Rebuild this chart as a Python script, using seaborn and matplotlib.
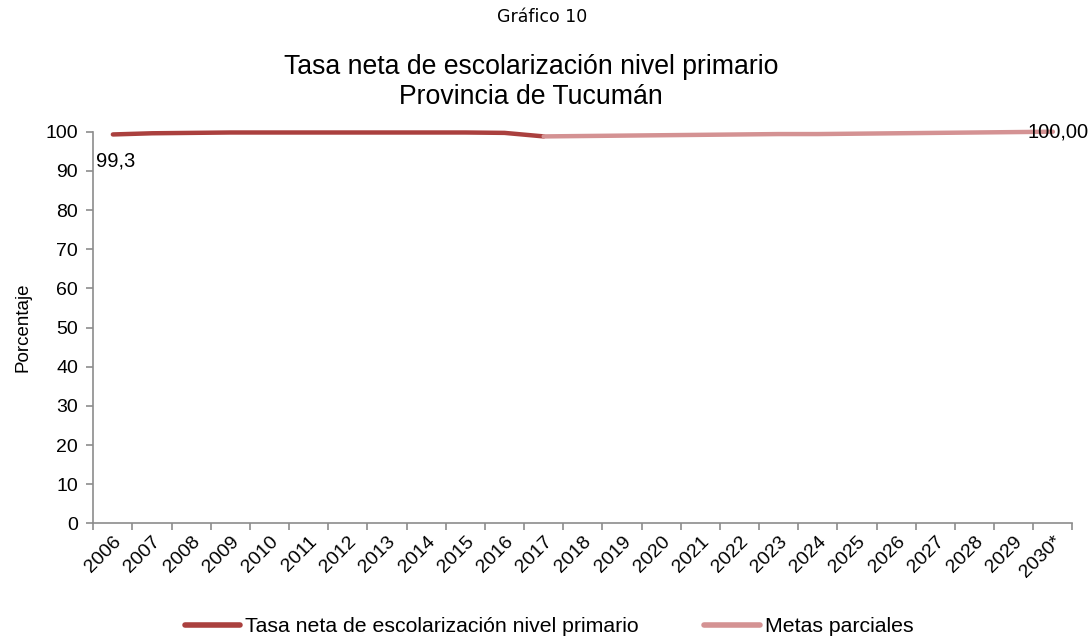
import matplotlib
matplotlib.use("Agg")
import matplotlib.pyplot as plt
import seaborn as sns
import pandas as pd
from matplotlib.ticker import FixedLocator, NullFormatter

# ---- data ----
years = ["2006", "2007", "2008", "2009", "2010", "2011", "2012", "2013", "2014",
         "2015", "2016", "2017", "2018", "2019", "2020", "2021", "2022", "2023",
         "2024", "2025", "2026", "2027", "2028", "2029", "2030*"]
tasa_years = ["2006", "2007", "2008", "2009", "2010", "2011", "2012", "2013",
              "2014", "2015", "2016", "2017"]
tasa_values = [99.3, 99.6, 99.7, 99.8, 99.8, 99.8, 99.8, 99.8, 99.8, 99.8, 99.7, 98.8]
metas_years = ["2017", "2018", "2019", "2020", "2021", "2022", "2023", "2024",
               "2025", "2026", "2027", "2028", "2029", "2030*"]
metas_values = [98.8, 98.9, 99.0, 99.1, 99.2, 99.3, 99.4, 99.4, 99.5, 99.6,
                99.7, 99.8, 99.9, 100.0]
series_names = ["Tasa neta de escolarización nivel primario", "Metas parciales"]
yticks = [0, 10, 20, 30, 40, 50, 60, 70, 80, 90, 100]

df = pd.DataFrame({
    "pos": [years.index(y) for y in tasa_years] + [years.index(y) for y in metas_years],
    "valor": tasa_values + metas_values,
    "serie": [series_names[0]] * len(tasa_years) + [series_names[1]] * len(metas_years),
})

sns.set_theme(style="white")
plt.rcParams["font.family"] = ["Liberation Sans", "DejaVu Sans"]
plt.rcParams["text.color"] = "black"
plt.rcParams["xtick.color"] = "black"
plt.rcParams["ytick.color"] = "black"
plt.rcParams["axes.labelcolor"] = "black"

fig = plt.figure(figsize=(10.91, 6.40), dpi=100)
ax = fig.add_axes([0.0855, 0.1823, 0.8975, 0.6119])

palette = {series_names[0]: "#AA403E", series_names[1]: "#D49293"}
sns.lineplot(data=df, x="pos", y="valor", hue="serie", palette=palette,
             linewidth=3.2, ax=ax, legend=True, sort=True)
for ln in ax.lines:
    ln.set_clip_on(False)
    ln.set_solid_capstyle("round")

ax.set_xlim(-0.5, len(years) - 0.5)
ax.set_ylim(0, 100)
ax.set_yticks(yticks)
ax.set_yticklabels([str(t) for t in yticks], fontsize=14)

# Excel-style ticks: marks at category boundaries, labels at centers
ax.xaxis.set_major_locator(FixedLocator([i - 0.5 for i in range(len(years) + 1)]))
ax.xaxis.set_major_formatter(NullFormatter())
ax.set_xticks(range(len(years)), minor=True)
ax.set_xticklabels(years, minor=True, fontsize=14, rotation=45, ha="right",
                   rotation_mode="anchor")
ax.tick_params(axis="x", which="major", direction="out", length=5, width=1.2,
               color="#8C8C8C", bottom=True)
ax.tick_params(axis="x", which="minor", length=0, pad=7, bottom=True)
ax.tick_params(axis="y", direction="out", length=5, width=1.2, color="#8C8C8C",
               left=True, pad=6, labelcolor="black")

for side in ["top", "right"]:
    ax.spines[side].set_visible(False)
for side in ["left", "bottom"]:
    ax.spines[side].set_color("#8C8C8C")
    ax.spines[side].set_linewidth(1.2)

ax.set_xlabel("")
ax.set_ylabel("Porcentaje", fontsize=13.5, labelpad=10, color="black")

# data labels
ax.annotate("99,3", xy=(years.index(tasa_years[0]), tasa_values[0]),
            xytext=(2, -12), textcoords="offset points", ha="center", va="top",
            fontsize=14.5, color="black")
ax.annotate("100,00", xy=(years.index(metas_years[-1]), metas_values[-1]),
            xytext=(4, 0), textcoords="offset points", ha="center", va="center",
            fontsize=14.5, color="black", annotation_clip=False)

# legend
leg = ax.legend(loc="center", bbox_to_anchor=(549 / 1091, 1 - 627 / 640),
                bbox_transform=fig.transFigure,
                ncol=2, frameon=False, fontsize=15.3, handlelength=2.6,
                handletextpad=0.23, columnspacing=3.1)
for h in leg.legend_handles:
    h.set_linewidth(4)
for t in leg.get_texts():
    t.set_color("black")

fig.text(542 / 1091, 1 - 17 / 640, "Gráfico 10", ha="center", va="center", fontsize=12.5,
         family=["DejaVu Sans"], color="black")
fig.text(531 / 1091, 1 - 67 / 640, "Tasa neta de escolarización nivel primario",
         ha="center", va="center", fontsize=19.2, color="black")
fig.text(531 / 1091, 1 - 97 / 640, "Provincia de Tucumán",
         ha="center", va="center", fontsize=19.2, color="black")

fig.savefig("out.png", dpi=100)
